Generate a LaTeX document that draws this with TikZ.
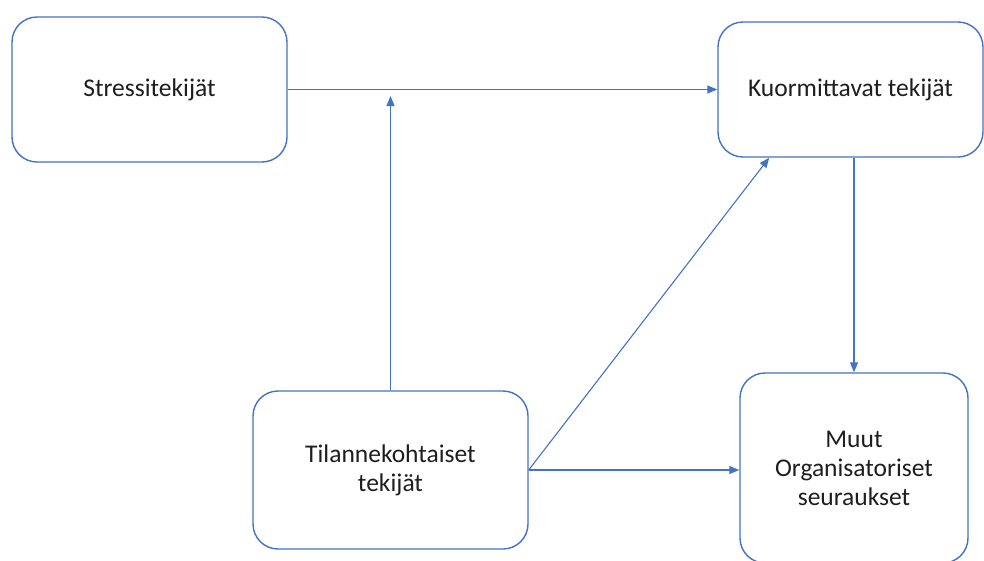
\documentclass[tikz,border=0pt]{standalone}
\usepackage{fontspec}
\setmainfont{Carlito}
\usetikzlibrary{arrows.meta,positioning}
\definecolor{ofblue}{RGB}{68,114,196}
\definecolor{oftext}{RGB}{30,30,30}
\tikzstyle{factor} = [rectangle, rounded corners=25pt, draw=ofblue, line width=1.4pt, fill=white, align=center, text=oftext, font=\fontsize{25.5}{29}\selectfont]
\tikzstyle{arrow} = [line width=1.1pt, ofblue, -{Triangle[length=10pt,width=8pt]}]
\begin{document}
\begin{tikzpicture}[x=1pt, y=-1pt]
\useasboundingbox (0,0) rectangle (984,560);

% Factors
\node (stress) [factor, minimum width=275pt, minimum height=145pt] at (149.5,89.5) {Stressitekijät};
\node (kuorm) [factor, minimum width=265pt, minimum height=135pt] at (850.5,89.5) {Kuormittavat tekijät};
\node (tilanne) [factor, minimum width=275pt, minimum height=158pt] at (390.5,470) {Tilannekohtaiset\\tekijät};
\node (muut) [factor, minimum width=228pt, minimum height=190pt] at (854,468) {Muut\\Organisatoriset\\seuraukset};

% Point under the upper arrow
\coordinate (junction) at (392,96);

% Connections
\draw[arrow] (stress.east) -- (kuorm.west);
\draw[arrow] (tilanne.north) -- (tilanne.north |- junction);
\draw[arrow] (tilanne.east) -- (kuorm.220);
\draw[arrow] (tilanne.east) -- (tilanne.east -| muut.west);
\draw[arrow] (muut.north |- kuorm.south) -- (muut.north);
\end{tikzpicture}
\end{document}
